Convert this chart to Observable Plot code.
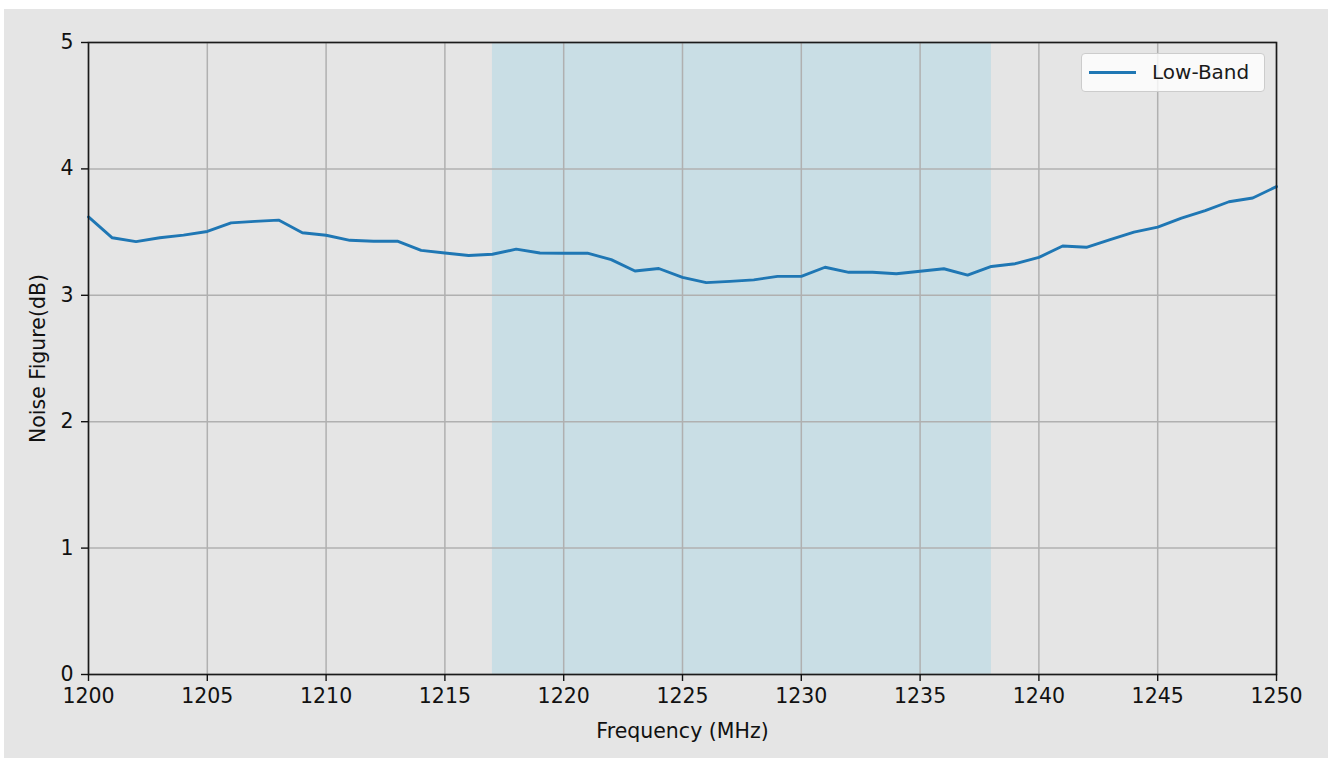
<!DOCTYPE html>
<html>
<head>
<meta charset="utf-8">
<script src="https://cdn.jsdelivr.net/npm/d3@7"></script>
<script src="https://cdn.jsdelivr.net/npm/@observablehq/plot@0.6"></script>
<style>
  html, body { margin: 0; padding: 0; background: #ffffff; }
  #fig { position: absolute; left: 4px; top: 9px; width: 1324px; height: 749px; background: #e5e5e5; }
  #legend { position: absolute; left: 1077px; top: 44px; width: 184px; height: 39px; background: rgba(255,255,255,0.8);
    border: 1px solid #cccccc; border-radius: 4px; box-sizing: border-box; font-family: "DejaVu Sans", sans-serif; font-size: 20px; color: #1a1a1a; }
  #legend .sw { position: absolute; left: 7px; top: 17px; width: 47px; height: 3px; background: #1f77b4; }
  #legend .lb { position: absolute; left: 70px; top: 7px; line-height: 22px; }
</style>
</head>
<body>
<div id="fig"></div>
<script>
const freqs = [1200,1201,1202,1203,1204,1205,1206,1207,1208,1209,1210,1211,1212,1213,1214,1215,1216,1217,1218,1219,1220,1221,1222,1223,1224,1225,1226,1227,1228,1229,1230,1231,1232,1233,1234,1235,1236,1237,1238,1239,1240,1241,1242,1243,1244,1245,1246,1247,1248,1249,1250];
const noiseFigure = [3.62,3.455,3.425,3.455,3.476,3.505,3.573,3.585,3.595,3.495,3.475,3.435,3.428,3.428,3.355,3.335,3.315,3.325,3.365,3.335,3.333,3.333,3.282,3.192,3.212,3.142,3.100,3.110,3.122,3.150,3.150,3.222,3.182,3.182,3.170,3.190,3.210,3.160,3.228,3.250,3.300,3.390,3.380,3.440,3.500,3.540,3.610,3.670,3.740,3.770,3.860];
const bandStart = 1217;
const bandEnd = 1238;
const xTicks = [1200,1205,1210,1215,1220,1225,1230,1235,1240,1245,1250];
const yTicks = [0,1,2,3,4,5];
const seriesName = "Low-Band";

const data = freqs.map((f, i) => ({f, v: noiseFigure[i]}));

const chart = Plot.plot({
  width: 1324,
  height: 749,
  marginLeft: 84,
  marginRight: 52,
  marginTop: 33,
  marginBottom: 84,
  style: {background: "#e5e5e5", fontFamily: "DejaVu Sans, sans-serif", fontSize: "20.5px", color: "#111111"},
  x: {domain: [1200, 1250]},
  y: {domain: [0, 5]},
  marks: [
    Plot.rect([{x1: bandStart, x2: bandEnd}], {x1: "x1", x2: "x2", y1: 0, y2: 5, fill: "#add8e6", fillOpacity: 0.5}),
    Plot.gridX(xTicks, {stroke: "#b0b0b0", strokeOpacity: 1, strokeWidth: 1.5}),
    Plot.gridY(yTicks, {stroke: "#b0b0b0", strokeOpacity: 1, strokeWidth: 1.5}),
    Plot.line(data, {x: "f", y: "v", stroke: "#1f77b4", strokeWidth: 2.9}),
    Plot.frame({stroke: "#1a1a1a", strokeWidth: 1.6}),
    Plot.axisX(xTicks, {tickSize: 7, tickPadding: 7, strokeWidth: 1.4, label: "Frequency (MHz)", labelAnchor: "center", labelArrow: "none", labelOffset: 63, tickFormat: d => String(d)}),
    Plot.axisY(yTicks, {tickSize: 7, tickPadding: 8, strokeWidth: 1.4, label: "Noise Figure(dB)", labelAnchor: "center", labelArrow: "none", labelOffset: 58, tickFormat: d => String(d)})
  ]
});
const fig = document.getElementById("fig");
fig.appendChild(chart);
const lg = document.createElement("div");
lg.id = "legend";
lg.innerHTML = '<div class="sw"></div><div class="lb"></div>';
lg.querySelector(".lb").textContent = seriesName;
fig.appendChild(lg);
</script>
</body>
</html>
